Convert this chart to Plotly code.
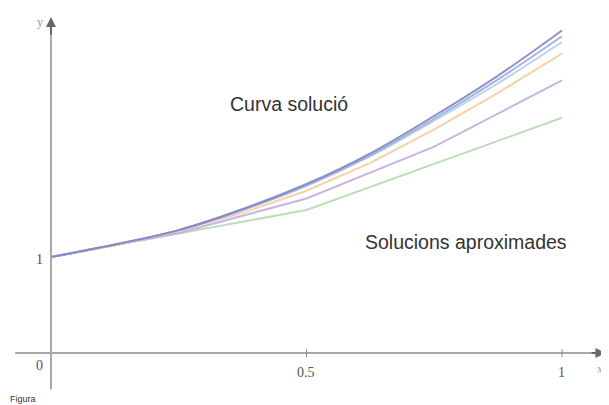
import plotly.graph_objects as go

# Data
x_fine = [0, 0.125, 0.25, 0.375, 0.5, 0.625, 0.75, 0.875, 1]
y_top = [1, 1.13, 1.28, 1.50, 1.76, 2.08, 2.47, 2.89, 3.36]
y_blue = [1, 1.13, 1.28, 1.49, 1.75, 2.06, 2.44, 2.85, 3.30]
y_lightblue = [1, 1.13, 1.28, 1.49, 1.74, 2.05, 2.42, 2.81, 3.24]
y_orange = [1, 1.12, 1.27, 1.46, 1.69, 1.98, 2.33, 2.71, 3.12]
x_quarter = [0, 0.25, 0.5, 0.75, 1]
y_purple = [1, 1.25, 1.61, 2.15, 2.84]
x_half = [0, 0.5, 1]
y_green = [1, 1.49, 2.45]

x_ticks = [0.5, 1]
x_tick_labels = ["0.5", "1"]
y_ticks = [1]
y_tick_labels = ["1"]

fig = go.Figure()

series = [
    (x_half, y_green, "#b5dcb0", "linear"),
    (x_quarter, y_purple, "#c3aee2", "linear"),
    (x_fine, y_orange, "#f6cf9e", "linear"),
    (x_fine, y_lightblue, "#b6cdea", "spline"),
    (x_fine, y_blue, "#9aaedb", "spline"),
    (x_fine, y_top, "#8486c4", "spline"),
]
for xs, ys, col, shape in series:
    fig.add_trace(go.Scatter(x=xs, y=ys, mode="lines", line=dict(color=col, width=2, shape=shape),
                             opacity=0.9, hoverinfo="skip", showlegend=False))

axis_col = "#a8a8a8"
# axes lines
fig.add_shape(type="line", x0=-0.07, x1=1.08, y0=0, y1=0, line=dict(color=axis_col, width=2))
fig.add_shape(type="line", x0=0, x1=0, y0=-0.38, y1=3.4, line=dict(color=axis_col, width=2))
# arrowheads
fig.add_annotation(x=0, y=3.5, ax=0, ay=3.3, axref="x", ayref="y", xref="x", yref="y",
                   text="", showarrow=True, arrowhead=2, arrowsize=1, arrowwidth=2, arrowcolor="#666")
fig.add_annotation(x=1.085, y=0, ax=1.055, ay=0, axref="x", ayref="y", xref="x", yref="y",
                   text="", showarrow=True, arrowhead=2, arrowsize=1, arrowwidth=2, arrowcolor="#666")
# tick marks
for t in x_ticks:
    fig.add_shape(type="line", x0=t, x1=t, y0=-0.04, y1=0.04, line=dict(color="#888", width=1))

serif = dict(family="Liberation Serif", size=14, color="#555")
for t, lab in zip(x_ticks, x_tick_labels):
    fig.add_annotation(x=t, y=-0.2, text=lab, showarrow=False, font=serif)
for t, lab in zip(y_ticks, y_tick_labels):
    fig.add_annotation(x=-0.022, y=t - 0.03, text=lab, showarrow=False, font=serif)
fig.add_annotation(x=-0.022, y=-0.135, text="0", showarrow=False, font=serif)
fig.add_annotation(x=-0.022, y=3.45, text="y", showarrow=False, font=dict(family="Liberation Serif", size=12, color="#999"))
fig.add_annotation(x=0.993, xref="paper", y=-0.17, yref="y", text="x", showarrow=False,
                   font=dict(family="Liberation Serif", size=12, color="#999"))

fig.add_annotation(x=0.466, y=2.59, text="Curva solució", showarrow=False,
                   font=dict(family="Liberation Sans", size=19.5, color="#333"))
fig.add_annotation(x=0.812, y=1.156, text="Solucions aproximades", showarrow=False,
                   font=dict(family="Liberation Sans", size=19.5, color="#333"))
fig.add_annotation(x=-0.055, y=-0.48, text="Figura", showarrow=False,
                   font=dict(family="Liberation Sans", size=9, color="#333"))

# page body has an 8px margin, so the figure is sized and ranged to compensate
fig.update_layout(
    width=601, height=397,
    margin=dict(l=0, r=0, t=0, b=0),
    paper_bgcolor="white", plot_bgcolor="white",
    xaxis=dict(range=[-0.0841, 1.092], visible=False, fixedrange=True),
    yaxis=dict(range=[-0.5417, 3.5937], visible=False, fixedrange=True),
)

fig.write_html("out.html")
